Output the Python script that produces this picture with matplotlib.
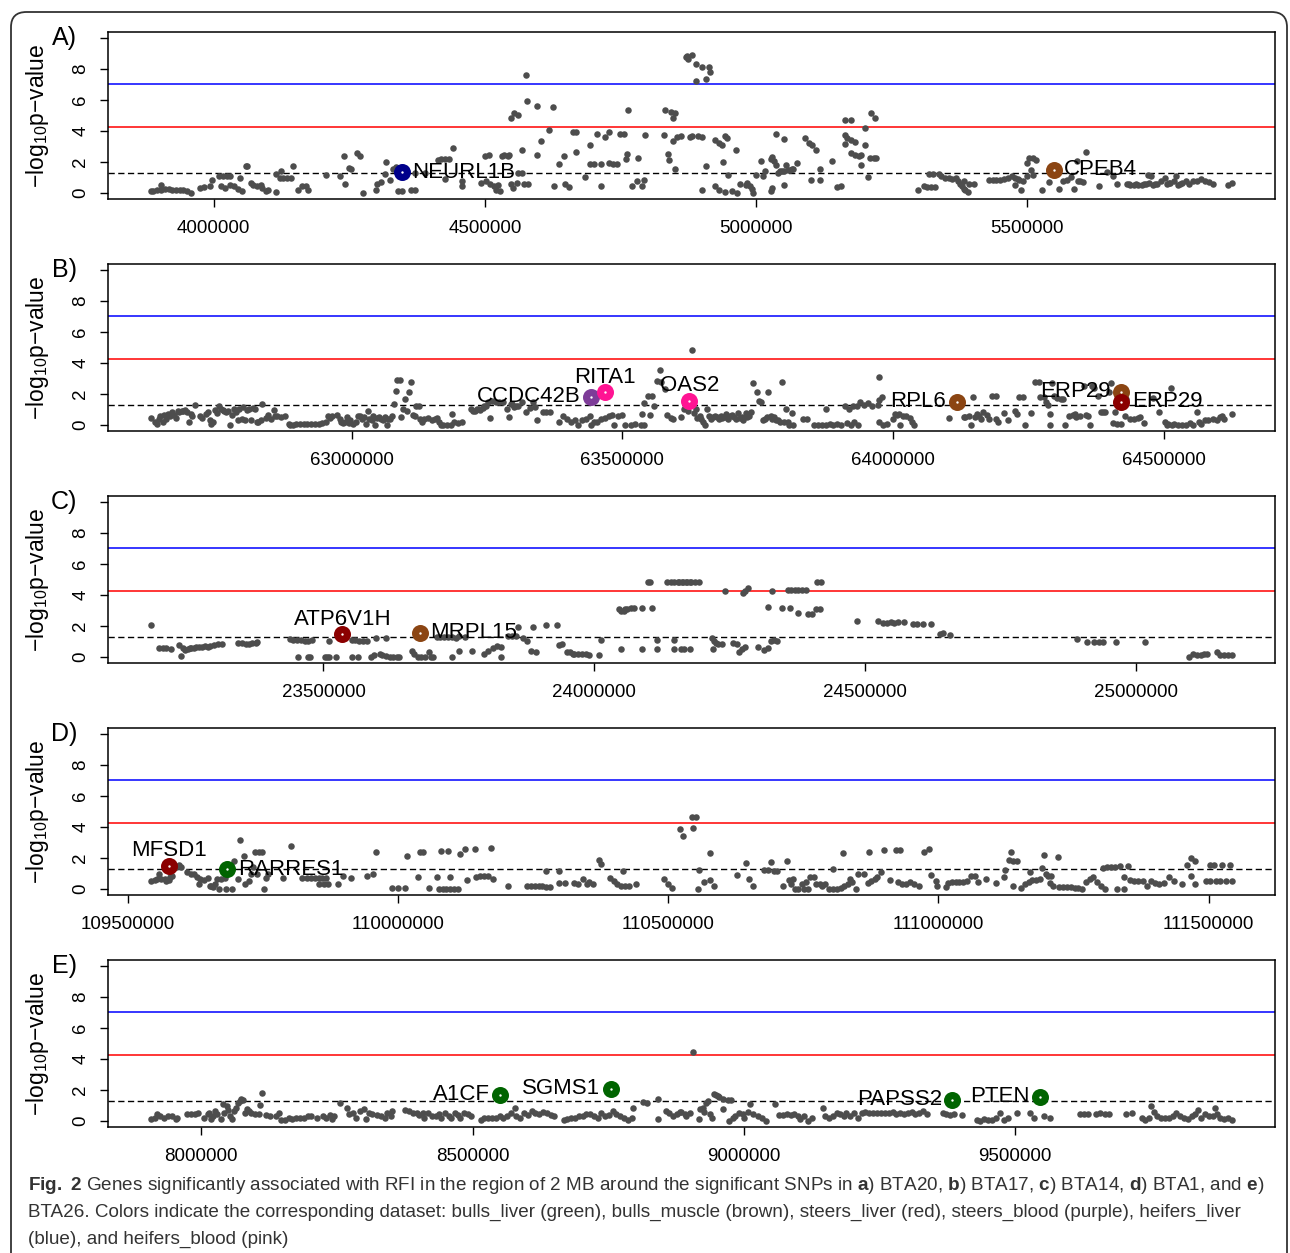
import numpy as np
import matplotlib
matplotlib.use("Agg")
import matplotlib.pyplot as plt
from matplotlib import font_manager
from matplotlib.patches import FancyBboxPatch
from matplotlib.ticker import MultipleLocator, FormatStrFormatter

# ---- data: (position in kb, -log10 p) ----
snps_a = [
    (3885, 0.11), (3889, 0.11), (3896, 0.21), (3903, 0.53), (3903, 0.2), (3910, 0.26), (3917, 0.26),
    (3924, 0.21), (3931, 0.21), (3938, 0.17), (3944, 0.15), (3951, 0.11), (3958, 0.0),
    (3974, 0.34), (3983, 0.38), (3993, 0.43), (3997, 0.81),
    (4010, 1.07), (4017, 1.11), (4024, 1.07), (4031, 1.11), (4014, 0.43), (4021, 0.32), (4031, 0.53),
    (4038, 0.43), (4045, 0.26), (4052, 0.11), (4049, 0.96), (4059, 1.75), (4062, 1.71),
    (4069, 0.64), (4073, 0.53), (4080, 0.43), (4087, 0.53), (4090, 0.32), (4097, 0.11), (4101, 0.21),
    (4115, 0.06), (4115, 1.24), (4122, 0.96), (4125, 1.39), (4128, 0.96), (4135, 0.96), (4142, 0.96),
    (4146, 1.75), (4156, 0.21), (4163, 0.43), (4170, 0.47), (4174, 0.21),
    (4208, 1.13), (4233, 1.07), (4240, 2.35), (4243, 0.6), (4250, 1.6), (4253, 1.54), (4264, 2.56),
    (4269, 2.41), (4276, 0.0), (4299, 0.17), (4302, 0.6), (4309, 0.71), (4316, 1.24), (4318, 1.97),
    (4326, 0.85), (4330, 1.54), (4337, 1.67), (4340, 0.11), (4347, 0.09), (4363, 0.15), (4372, 0.21),
    (4372, 1.28), (4389, 1.28), (4413, 2.14), (4420, 2.18), (4427, 2.18), (4434, 2.18), (4441, 2.88),
    (4427, 0.92), (4458, 0.79), (4458, 0.43), (4493, 0.64), (4500, 2.39), (4503, 0.75), (4507, 2.46),
    (4510, 0.6), (4517, 0.47), (4521, 0.21), (4524, 0.53), (4528, 0.11), (4531, 2.39), (4535, 2.46),
    (4542, 2.39), (4545, 2.46), (4549, 0.6), (4552, 0.32), (4559, 0.64), (4562, 1.28), (4568, 2.78),
    (4569, 1.28), (4573, 0.6), (4580, 0.6),
    (4549, 4.81), (4554, 5.13), (4561, 5.0), (4576, 7.59), (4578, 5.94), (4596, 5.64), (4625, 5.53),
    (4597, 2.46), (4604, 3.38), (4618, 4.06), (4628, 0.43), (4637, 1.86), (4646, 2.39), (4647, 0.6),
    (4656, 0.38), (4663, 3.91), (4668, 3.91), (4668, 2.61), (4684, 1.03), (4693, 3.06), (4694, 1.88),
    (4701, 1.88), (4707, 3.82), (4714, 0.47), (4715, 1.88), (4721, 3.59), (4728, 3.93), (4729, 1.9),
    (4736, 1.88), (4743, 1.84), (4750, 3.8), (4757, 3.8), (4760, 2.2), (4762, 2.52), (4764, 5.38),
    (4771, 0.43), (4781, 0.75), (4783, 2.22), (4790, 0.47), (4794, 0.81), (4795, 3.74), (4830, 3.74),
    (4833, 5.38), (4837, 2.52), (4840, 2.09), (4844, 5.21), (4847, 4.87), (4851, 5.17), (4847, 3.38),
    (4854, 3.59), (4851, 1.54), (4871, 8.76), (4875, 8.65), (4878, 3.63),
    (4872, 8.87), (4882, 8.93), (4889, 8.33), (4889, 7.26), (4900, 8.12), (4907, 7.37), (4914, 8.12),
    (4916, 7.8), (4861, 3.68), (4882, 3.68), (4893, 3.68), (4900, 3.63), (4907, 1.71), (4900, 0.21),
    (4925, 3.42), (4932, 3.21), (4937, 3.1), (4942, 3.68), (4947, 3.57), (4939, 1.97), (4925, 0.47),
    (4932, 0.21), (4942, 0.04), (4949, 1.18), (4956, 0.11), (4963, 2.74), (4965, 0.0), (4970, 0.58),
    (4981, 0.53), (4984, 0.64), (4988, 0.43), (4992, 0.26), (4995, 0.0), (4999, 1.18), (5009, 2.03),
    (5013, 1.07), (5016, 1.39), (5027, 2.18), (5030, 2.31), (5034, 2.03), (5037, 1.82), (5041, 1.28),
    (5044, 1.39), (5048, 1.39), (5051, 1.39), (5055, 1.82), (5059, 1.5), (5062, 1.5), (5066, 1.54),
    (5069, 1.54), (5037, 3.78), (5051, 3.48), (5027, 0.11), (5030, 0.32), (5051, 0.53), (5076, 1.92),
    (5090, 3.57), (5097, 3.21), (5104, 3.06), (5111, 2.74), (5101, 0.85), (5118, 1.54), (5118, 0.85),
    (5140, 2.07), (5150, 0.38), (5157, 0.43), (5164, 4.7), (5175, 4.74), (5164, 3.74), (5168, 3.57),
    (5175, 3.42), (5182, 3.27), (5164, 3.16), (5175, 2.56), (5182, 2.46), (5189, 2.39), (5193, 2.46),
    (5200, 3.06), (5193, 1.82), (5200, 4.19), (5210, 2.24), (5217, 2.24), (5221, 2.24), (5212, 5.19),
    (5219, 4.81), (5207, 1.0),
    (5298, 0.21), (5309, 0.47), (5316, 0.38), (5323, 0.38), (5330, 0.38), (5319, 1.24), (5327, 1.24),
    (5337, 1.24), (5341, 1.07), (5348, 0.96), (5355, 0.96), (5362, 0.9), (5369, 0.96), (5372, 0.75),
    (5376, 0.58), (5383, 0.75), (5386, 0.17), (5390, 0.04), (5393, 0.6), (5401, 0.6), (5379, 0.43),
    (5383, 0.26), (5429, 0.81), (5436, 0.85), (5443, 0.85), (5450, 0.85), (5457, 0.9), (5464, 0.94),
    (5471, 1.07), (5478, 0.96), (5482, 0.9), (5485, 0.85), (5478, 0.53), (5489, 0.21), (5492, 0.75),
    (5499, 1.07), (5499, 1.92), (5503, 2.26), (5510, 2.24), (5517, 2.09), (5506, 1.45), (5511, 1.15),
    (5527, 0.17), (5540, 0.68), (5559, 0.26), (5566, 0.75), (5573, 0.85), (5580, 1.0), (5587, 0.26),
    (5591, 2.07), (5594, 0.75), (5598, 0.79), (5602, 0.68), (5609, 2.61), (5633, 0.47), (5647, 1.32),
    (5658, 1.07), (5665, 0.6),
    (5683, 0.6), (5687, 0.55), (5690, 0.53), (5697, 0.53), (5701, 0.56), (5704, 0.53), (5711, 0.53),
    (5715, 0.57), (5718, 0.6), (5725, 0.64), (5732, 0.53), (5736, 0.58), (5739, 0.6), (5746, 0.75),
    (5753, 0.96), (5757, 0.6), (5761, 0.62), (5764, 0.64), (5771, 0.75), (5775, 1.11), (5778, 0.53),
    (5782, 0.6), (5785, 0.64), (5792, 0.75), (5799, 0.6), (5806, 0.75), (5813, 0.75), (5820, 0.9),
    (5828, 0.75), (5835, 0.68), (5842, 0.6), (5722, 1.18), (5729, 1.07), (5870, 0.53), (5877, 0.64),
]

snps_b = [
    (62630, 0.43), (62637, 0.21), (62640, 0.06), (62644, 0.38), (62647, 0.56), (62651, 0.17),
    (62654, 0.64), (62658, 0.38), (62661, 0.71), (62665, 0.56), (62668, 0.81), (62672, 0.64),
    (62675, 0.43), (62679, 0.92), (62682, 0.81), (62686, 0.88), (62689, 0.92), (62692, 0.98),
    (62696, 0.85), (62699, 0.21), (62703, 0.71), (62706, 0.56), (62710, 1.28), (62720, 0.6),
    (62724, 0.43), (62731, 0.71), (62734, 0.85), (62738, 0.28), (62741, 0.06), (62745, 0.17),
    (62748, 0.98), (62752, 0.77), (62755, 1.24), (62759, 1.03), (62762, 0.98), (62765, 0.92),
    (62769, 0.85), (62772, 0.92), (62776, 0.0), (62779, 0.64), (62783, 1.03), (62786, 0.85),
    (62790, 0.28), (62793, 1.03), (62797, 0.38), (62800, 1.13), (62804, 0.28), (62807, 0.98),
    (62811, 1.03), (62814, 0.28), (62818, 1.07), (62821, 1.03), (62825, 0.21), (62828, 0.21),
    (62832, 0.28), (62835, 1.35), (62842, 0.43), (62845, 0.64), (62852, 0.38), (62856, 0.98),
    (62859, 0.56), (62863, 0.56), (62870, 0.49), (62877, 0.6), (62884, 0.06), (62887, 0.0),
    (62891, 0.0), (62898, 0.04), (62905, 0.04), (62912, 0.04), (62918, 0.06), (62925, 0.04),
    (62932, 0.06), (62939, 0.04), (62946, 0.13), (62953, 0.17), (62957, 0.56), (62960, 0.43),
    (62964, 0.56), (62974, 0.64), (62978, 0.38), (62981, 0.17), (62985, 0.13), (62988, 0.17),
    (62991, 0.49), (62995, 0.13), (62998, 0.28), (63002, 0.04), (63009, 0.21), (63012, 0.6),
    (63016, 0.56), (63019, 0.38), (63023, 0.49), (63026, 0.06), (63030, 0.92), (63033, 0.38),
    (63037, 0.28), (63040, 0.56), (63044, 0.0), (63047, 0.43), (63051, 0.49), (63054, 0.38),
    (63058, 0.28), (63061, 0.49), (63065, 0.0), (63068, 0.38), (63071, 0.38), (63075, 0.56),
    (63078, 1.35), (63082, 2.2), (63084, 2.91), (63089, 2.91), (63092, 0.49), (63096, 1.03),
    (63099, 1.67), (63103, 0.92), (63106, 2.09), (63110, 2.78), (63113, 0.64), (63117, 0.56),
    (63120, 1.2), (63124, 1.24), (63127, 0.38), (63131, 0.21), (63134, 0.38), (63141, 0.43),
    (63148, 0.28), (63155, 0.38), (63158, 0.43), (63162, 0.17), (63165, 0.0), (63169, 0.0),
    (63176, 0.0), (63183, 0.0), (63186, 0.71), (63190, 0.21), (63197, 0.13), (63204, 0.21),
    (63221, 1.03), (63224, 0.92), (63228, 0.92), (63231, 1.03), (63235, 1.03), (63238, 0.98),
    (63242, 1.07), (63245, 1.2), (63249, 1.2), (63252, 1.5), (63256, 0.43), (63259, 1.56),
    (63266, 1.5), (63273, 1.5), (63280, 1.45), (63287, 1.03), (63291, 0.49), (63294, 1.35),
    (63297, 1.35), (63301, 1.13), (63304, 1.2), (63308, 1.2), (63315, 1.45), (63322, 0.85),
    (63329, 1.07), (63336, 1.5), (63339, 1.13), (63343, 0.28), (63353, 0.81), (63360, 0.81),
    (63367, 0.81), (63384, 0.21), (63391, 0.6), (63398, 0.38), (63405, 0.17), (63412, 0.28),
    (63419, 0.0), (63426, 0.28), (63433, 0.38), (63440, 0.6), (63443, 0.0), (63447, 0.17),
    (63454, 0.21), (63461, 0.38), (63468, 0.43), (63475, 0.6), (63482, 0.64), (63485, 0.0),
    (63492, 0.6), (63499, 0.64), (63506, 0.0), (63517, 0.0), (63524, 0.06), (63534, 0.0),
    (63541, 0.0), (63537, 0.71), (63541, 1.41), (63548, 1.84), (63555, 1.84), (63558, 1.2),
    (63551, 0.64), (63569, 3.55), (63565, 2.84), (63572, 2.78), (63579, 2.31), (63583, 0.64),
    (63590, 0.43), (63593, 0.38),
    (63608, 0.49), (63615, 1.03), (63622, 0.92), (63629, 4.87), (63632, 0.77), (63636, 1.03),
    (63639, 0.43), (63643, 0.6), (63646, 0.38), (63650, 0.21), (63653, 0.0), (63657, 1.03),
    (63661, 0.56), (63664, 0.38), (63668, 0.49), (63671, 0.6), (63675, 0.49), (63678, 0.38),
    (63682, 0.56), (63685, 0.43), (63689, 0.49), (63692, 0.71), (63696, 0.38), (63699, 0.56),
    (63703, 0.64), (63706, 0.49), (63710, 0.38), (63714, 0.77), (63717, 0.43), (63721, 0.49),
    (63724, 0.34), (63728, 0.77), (63731, 0.49), (63735, 0.56), (63738, 0.85), (63742, 2.69),
    (63749, 2.14), (63752, 1.56), (63756, 1.45), (63760, 0.34), (63763, 0.38), (63767, 0.49),
    (63770, 2.14), (63774, 0.6), (63777, 0.38), (63781, 0.49), (63784, 0.34), (63788, 0.28),
    (63791, 0.21), (63795, 2.78), (63798, 0.17), (63802, 1.03), (63806, 0.21), (63809, 0.0),
    (63813, 0.77), (63816, 0.0), (63834, 0.38), (63841, 0.38), (63855, 0.0), (63862, 0.0),
    (63869, 0.0), (63876, 1.03), (63876, 0.0), (63883, 0.04), (63890, 0.0), (63897, 0.06),
    (63905, 0.0), (63912, 1.24), (63915, 0.13), (63919, 1.03), (63922, 0.0), (63926, 1.2),
    (63929, 0.17), (63933, 1.24), (63936, 0.0), (63940, 1.5), (63947, 1.28), (63954, 1.41),
    (63961, 1.2), (63972, 1.28), (63974, 3.12), (63975, 1.62), (63979, 1.77), (63975, 0.17),
    (63982, 0.0), (63989, 0.04), (64000, 0.38), (64004, 0.71), (64007, 0.64), (64011, 0.71),
    (64014, 0.0), (64018, 0.6), (64025, 0.56), (64032, 0.43), (64035, 0.21), (64039, 0.0),
    (64103, 0.45), (64131, 0.49), (64134, 0.49), (64141, 0.56), (64145, 0.0), (64148, 1.77),
    (64152, 0.49), (64156, 0.71), (64159, 0.6), (64163, 0.38), (64166, 0.81), (64173, 0.64),
    (64177, 0.38), (64184, 1.84), (64191, 1.84), (64191, 0.38), (64194, 0.21), (64205, 0.77),
    (64212, 0.28), (64226, 0.92), (64230, 0.71), (64233, 1.77), (64240, 1.77), (64244, 0.0),
    (64255, 0.77), (64262, 2.74), (64269, 2.74), (64272, 1.77), (64279, 1.77), (64283, 1.45),
    (64286, 1.28), (64290, 0.71), (64294, 2.69), (64290, 0.0), (64297, 1.88), (64304, 1.71),
    (64311, 1.67), (64315, 1.67), (64318, 0.0), (64325, 0.56), (64332, 0.64), (64336, 0.71),
    (64339, 0.49), (64346, 0.56), (64353, 2.52), (64357, 0.64), (64361, 0.56), (64364, 0.0),
    (64368, 2.48), (64371, 2.35), (64378, 1.84), (64385, 0.85), (64389, 0.85), (64392, 0.81),
    (64400, 2.09), (64403, 2.69), (64407, 0.13), (64410, 0.81), (64414, 0.06), (64421, 0.06),
    (64428, 0.6), (64431, 1.67), (64438, 0.38), (64446, 0.38), (64453, 0.43), (64456, 0.49),
    (64463, 0.13), (64481, 1.71), (64492, 0.81), (64502, 0.17), (64506, 0.0), (64509, 0.06),
    (64513, 2.35), (64516, 0.0), (64520, 0.06), (64527, 0.0), (64534, 0.0), (64541, 0.0),
    (64548, 0.13), (64555, 0.0), (64562, 0.81), (64566, 0.21), (64569, 0.06), (64576, 0.34),
    (64583, 0.28), (64591, 0.38), (64598, 0.28), (64605, 0.49), (64608, 0.56), (64612, 0.38),
    (64626, 0.71),
]

snps_c = [
    (23182, 2.05), (23196, 0.56), (23203, 0.56), (23210, 0.56), (23218, 0.49), (23233, 0.77),
    (23237, 0.06), (23240, 0.6), (23244, 0.43), (23249, 0.49), (23253, 0.56), (23256, 0.56),
    (23261, 0.6), (23265, 0.64), (23270, 0.64), (23275, 0.64), (23281, 0.71), (23286, 0.64),
    (23291, 0.71), (23298, 0.77), (23305, 0.81), (23312, 0.85), (23343, 0.92), (23350, 0.92),
    (23357, 0.85), (23363, 0.85), (23368, 0.92), (23375, 0.92), (23378, 0.96),
    (23439, 1.13), (23444, 1.07), (23451, 1.07), (23458, 1.07), (23465, 1.03), (23472, 1.03),
    (23479, 1.07), (23510, 1.03), (23453, 0.0), (23472, 0.02), (23476, 0.02), (23503, 0.02),
    (23507, 0.02), (23510, 0.02), (23524, 0.02), (23552, 0.02), (23563, 0.02), (23552, 1.07),
    (23559, 1.07), (23566, 1.03), (23573, 1.03), (23580, 1.03), (23597, 1.2), (23616, 1.2),
    (23587, 0.0), (23594, 0.13), (23604, 0.21), (23609, 0.13), (23615, 0.06), (23622, 0.0),
    (23629, 0.0), (23636, 0.0), (23639, 0.0),
    (23664, 0.38), (23667, 0.17), (23674, 0.0), (23681, 0.0), (23688, 0.0), (23695, 0.34),
    (23698, 0.0), (23702, 0.0), (23709, 1.28), (23716, 1.28), (23723, 1.28), (23730, 1.28),
    (23737, 1.28), (23744, 1.24), (23751, 1.35), (23761, 1.28), (23737, 0.0), (23751, 0.38),
    (23775, 0.38), (23796, 0.21), (23803, 0.38), (23813, 0.6), (23820, 0.71), (23827, 0.64),
    (23827, 0.0), (23841, 1.35), (23848, 1.35), (23855, 1.35), (23859, 1.92), (23869, 1.2),
    (23876, 1.03), (23883, 0.38), (23886, 1.92), (23893, 0.28), (23911, 2.05), (23932, 2.05),
    (23934, 0.77), (23941, 0.85), (23949, 0.34), (23956, 0.28), (23960, 0.17), (23963, 0.21),
    (23970, 0.17), (23977, 0.17), (23984, 0.17), (23991, 0.13), (24008, 0.13), (24012, 1.07),
    (24050, 0.49), (24045, 3.06), (24050, 2.95), (24054, 2.95), (24057, 3.06), (24061, 3.1),
    (24068, 3.16), (24073, 3.16), (24088, 3.16), (24106, 3.16), (24088, 0.49), (24115, 0.49),
    (24115, 1.07), (24148, 1.07), (24148, 0.49), (24165, 0.49), (24176, 0.49),
    (24099, 4.83), (24102, 4.83), (24134, 4.83), (24141, 4.83), (24148, 4.83), (24155, 4.83),
    (24162, 4.83), (24169, 4.83), (24176, 4.83),
    (24157, 4.83), (24164, 4.83), (24171, 4.83), (24178, 4.83), (24186, 4.83), (24193, 4.81),
    (24161, 0.49), (24217, 1.2), (24221, 1.03), (24224, 0.92), (24228, 0.85), (24235, 0.85),
    (24220, 0.49), (24242, 4.27), (24256, 0.92), (24263, 0.81), (24267, 0.34), (24272, 0.49),
    (24278, 0.64), (24274, 4.12), (24279, 4.23), (24283, 4.44), (24302, 0.64), (24313, 0.43),
    (24320, 0.6), (24326, 1.03), (24331, 1.07), (24338, 1.03), (24320, 3.21), (24329, 4.23),
    (24347, 3.16), (24361, 3.16), (24357, 4.34), (24363, 4.34), (24370, 4.34), (24377, 4.34),
    (24384, 4.34), (24391, 4.34), (24377, 2.84), (24394, 2.74), (24402, 2.74), (24409, 3.12),
    (24416, 3.12), (24412, 4.83), (24419, 4.83),
    (24485, 2.31), (24524, 2.31), (24533, 2.2), (24540, 2.2), (24547, 2.24), (24554, 2.2),
    (24561, 2.24), (24572, 2.26), (24589, 2.14), (24596, 2.14), (24607, 2.14), (24621, 2.14),
    (24639, 1.5), (24644, 1.56), (24656, 1.39),
    (24892, 1.18), (24909, 0.98), (24923, 0.98), (24931, 0.98), (24940, 0.98), (24963, 0.98),
    (25016, 0.98), (25098, 0.0), (25106, 0.17), (25113, 0.13), (25120, 0.11), (25126, 0.21),
    (25131, 0.21), (25149, 0.28), (25156, 0.13), (25163, 0.11), (25170, 0.11), (25177, 0.11),
]

snps_d = [
    (109543, 0.53), (109550, 0.58), (109554, 0.64), (109561, 0.64), (109568, 0.64), (109571, 0.49),
    (109575, 0.58), (109578, 0.75), (109581, 0.85), (109557, 0.96), (109588, 1.39), (109595, 1.56),
    (109599, 1.39), (109609, 1.07), (109616, 0.96), (109623, 0.96), (109627, 0.79), (109632, 0.32),
    (109634, 0.64), (109641, 0.58), (109648, 0.71), (109651, 0.21), (109654, 0.15), (109658, 0.11),
    (109661, 0.32), (109665, 0.64), (109668, 0.0), (109672, 0.64), (109679, 0.71), (109682, 0.0),
    (109693, 0.0), (109696, 1.82), (109703, 0.64), (109707, 3.14), (109714, 2.14), (109717, 0.32),
    (109724, 0.49), (109728, 0.96), (109731, 1.39), (109735, 2.35), (109738, 0.96), (109742, 2.35),
    (109748, 2.35), (109752, 0.0), (109755, 0.71), (109759, 0.96), (109787, 0.71), (109801, 2.74),
    (109822, 0.71), (109832, 0.71), (109839, 0.71), (109846, 0.71), (109853, 0.71), (109860, 0.71),
    (109867, 0.71), (109853, 0.32), (109863, 0.32), (109870, 0.32), (109888, 0.32), (109898, 0.85),
    (109912, 0.71), (109943, 0.85), (109954, 0.96), (109959, 2.41), (109989, 0.06), (110000, 0.06),
    (110013, 0.06), (110016, 2.14), (110037, 0.79), (110041, 2.41), (110046, 2.41), (110058, 0.06),
    (110072, 0.75), (110076, 0.0), (110083, 0.0), (110089, 0.0), (110096, 0.0), (110103, 0.0),
    (110110, 0.0), (110079, 2.46), (110093, 2.46), (110096, 0.75), (110114, 2.24), (110123, 2.56),
    (110128, 0.58), (110142, 2.56), (110145, 0.75), (110152, 0.85), (110159, 0.85), (110166, 0.85),
    (110171, 2.67), (110176, 0.64), (110204, 0.15), (110239, 0.21), (110246, 0.21), (110253, 0.21),
    (110260, 0.15), (110267, 0.15), (110274, 0.11), (110281, 0.11), (110274, 1.13), (110298, 0.36),
    (110298, 1.13), (110309, 0.36), (110325, 0.36), (110333, 0.32), (110343, 0.64), (110350, 0.28),
    (110354, 0.43), (110361, 0.32), (110371, 1.86), (110375, 1.6), (110392, 0.71), (110399, 0.49),
    (110406, 0.32), (110413, 0.21), (110417, 1.13), (110420, 0.21), (110427, 0.15), (110441, 0.28),
    (110493, 0.64), (110500, 0.32), (110507, 0.06),
    (110521, 3.85), (110528, 3.42), (110543, 4.64), (110551, 4.64), (110546, 3.95), (110555, 0.0),
    (110557, 1.22), (110567, 0.43), (110578, 2.29), (110578, 0.58), (110585, 0.15), (110628, 0.92),
    (110643, 1.65), (110649, 0.64), (110656, 0.21), (110677, 1.22), (110684, 1.22), (110690, 1.71),
    (110695, 1.18), (110702, 1.18), (110713, 0.21), (110720, 1.77), (110723, 0.58), (110727, 0.32),
    (110730, 0.64), (110734, 0.0), (110741, 0.0), (110748, 0.32), (110752, 0.0), (110755, 0.43),
    (110759, 0.0), (110762, 0.75), (110770, 0.79), (110773, 0.32), (110780, 0.32), (110784, 0.15),
    (110791, 0.32), (110798, 0.0), (110805, 0.0), (110812, 0.0), (110819, 0.06), (110826, 0.15),
    (110833, 0.32), (110837, 0.64), (110840, 0.43), (110848, 0.0), (110804, 1.28), (110823, 2.29),
    (110851, 0.96), (110862, 0.96), (110869, 0.36), (110871, 2.41), (110876, 0.49), (110883, 0.64),
    (110887, 0.79), (110894, 1.07), (110899, 2.5), (110911, 0.58), (110922, 2.5), (110929, 2.5),
    (110926, 0.43), (110933, 0.32), (110940, 0.32), (110947, 0.43), (110954, 0.28), (110965, 0.21),
    (110973, 2.41), (110982, 2.56), (110986, 0.92), (110995, 0.49), (110997, 0.21), (111014, 0.11),
    (111018, 0.36), (111025, 0.43), (111032, 0.43), (111039, 0.43), (111046, 0.43), (111053, 0.49),
    (111060, 0.85), (111067, 0.85), (111074, 0.43), (111089, 0.64), (111106, 0.36), (111121, 0.79),
    (111124, 1.22), (111135, 2.35), (111131, 1.86), (111138, 1.82), (111145, 1.82), (111138, 0.21),
    (111152, 0.06), (111160, 0.32), (111167, 0.43), (111174, 0.58), (111181, 0.58), (111188, 0.64),
    (111170, 1.07), (111192, 1.35), (111195, 2.2), (111199, 0.96), (111202, 0.85), (111209, 0.85),
    (111206, 0.36), (111213, 0.21), (111221, 2.03), (111223, 0.11), (111231, 0.11), (111238, 0.11),
    (111245, 0.11), (111252, 0.06), (111259, 0.06), (111266, 0.0), (111273, 0.43), (111280, 0.64),
    (111287, 0.75), (111294, 0.43), (111301, 0.21), (111305, 1.35), (111308, 0.0), (111312, 1.39),
    (111319, 1.39), (111326, 1.39), (111330, 0.0), (111337, 1.5), (111344, 0.0), (111344, 0.75),
    (111351, 1.5), (111355, 0.58), (111362, 0.53), (111369, 0.53), (111379, 0.49), (111387, 0.21),
    (111394, 0.49), (111401, 0.36), (111408, 0.32), (111418, 0.36), (111426, 0.75), (111436, 0.49),
    (111450, 0.28), (111461, 1.56), (111468, 1.99), (111475, 1.77), (111468, 0.85), (111475, 0.28),
    (111496, 0.49), (111503, 1.56), (111503, 0.49), (111511, 1.56), (111514, 0.49), (111521, 0.49),
    (111525, 1.56), (111532, 0.49), (111539, 1.56), (111543, 0.49),
]

snps_e = [
    (7908, 0.11), (7915, 0.21), (7918, 0.43), (7925, 0.32), (7932, 0.15), (7939, 0.32), (7946, 0.28),
    (7953, 0.11), (7956, 0.15), (7974, 0.43), (7981, 0.43), (7988, 0.43), (7994, 0.49), (8005, 0.21),
    (8012, 0.43), (8015, 0.53), (8019, 0.11), (8022, 0.32), (8026, 0.64), (8029, 0.43), (8036, 0.11),
    (8040, 1.07), (8043, 0.53), (8047, 0.96), (8050, 0.71), (8053, 0.32), (8057, 0.11), (8060, 0.64),
    (8064, 0.85), (8067, 1.13), (8071, 1.28), (8074, 1.39), (8078, 1.35), (8081, 0.49), (8085, 0.79),
    (8088, 0.64), (8092, 0.49), (8099, 0.43), (8106, 0.43), (8109, 1.0), (8112, 1.77), (8119, 0.36),
    (8126, 0.32), (8137, 0.32), (8144, 0.53), (8147, 0.06), (8154, 0.06), (8161, 0.15), (8168, 0.11),
    (8175, 0.15), (8182, 0.21), (8189, 0.15), (8196, 0.28), (8203, 0.32), (8213, 0.21), (8224, 0.32),
    (8230, 0.15), (8237, 0.36), (8241, 0.11), (8244, 0.32), (8255, 1.18), (8269, 0.85), (8272, 0.43),
    (8279, 0.49), (8286, 0.21), (8293, 0.64), (8300, 0.75), (8303, 0.11), (8310, 0.53), (8314, 0.43),
    (8324, 0.36), (8331, 0.32), (8338, 0.15), (8342, 0.49), (8349, 0.32), (8352, 0.64), (8376, 0.71),
    (8383, 0.64), (8390, 0.53), (8397, 0.49), (8401, 0.36), (8408, 0.49), (8411, 0.15), (8418, 0.49),
    (8425, 0.32), (8432, 0.28), (8439, 0.43), (8442, 0.15), (8449, 0.53), (8456, 0.32), (8460, 0.15),
    (8467, 0.49), (8474, 0.36), (8477, 0.21), (8484, 0.53), (8491, 0.43), (8498, 0.32), (8515, 0.06),
    (8522, 0.15), (8529, 0.21), (8536, 0.21), (8543, 0.15), (8550, 0.32), (8557, 0.21), (8564, 0.32),
    (8571, 0.49), (8578, 0.85), (8581, 0.32), (8588, 0.21), (8595, 0.49), (8602, 0.36), (8609, 0.64),
    (8616, 0.49), (8623, 0.43), (8630, 0.58), (8637, 0.49), (8644, 0.36), (8651, 0.32), (8668, 0.06),
    (8675, 0.11), (8682, 0.15), (8689, 0.21), (8696, 0.28), (8703, 0.32), (8710, 0.43), (8717, 0.43),
    (8724, 0.28), (8731, 0.21), (8737, 0.49), (8744, 0.32), (8751, 0.36), (8758, 0.64), (8765, 0.43),
    (8772, 0.32), (8779, 0.15), (8786, 0.06), (8793, 0.15), (8796, 0.85), (8814, 1.22), (8821, 1.18),
    (8842, 1.39), (8842, 0.11), (8856, 0.64), (8862, 0.49), (8869, 0.32), (8876, 0.43), (8883, 0.58),
    (8894, 0.32), (8901, 0.49),
    (8885, 0.58), (8892, 0.43), (8906, 4.42), (8917, 0.11), (8920, 0.79), (8924, 0.85), (8927, 0.58),
    (8931, 1.13), (8934, 1.28), (8938, 0.43), (8941, 0.15), (8945, 1.71), (8948, 1.65), (8952, 1.6),
    (8955, 1.56), (8962, 1.39), (8961, 0.79), (8970, 1.35), (8977, 1.35), (8973, 0.0), (8980, 0.15),
    (8984, 0.32), (8991, 0.49), (8998, 0.43), (9001, 0.15), (9008, 0.58), (9016, 0.43), (9012, 1.07),
    (9026, 0.32), (9033, 0.15), (9040, 0.0), (9058, 1.07), (9065, 0.36), (9072, 0.36), (9079, 0.43),
    (9086, 0.36), (9093, 0.43), (9100, 0.32), (9104, 0.11), (9111, 0.28), (9118, 0.0), (9125, 0.15),
    (9146, 0.85), (9150, 0.32), (9157, 0.15), (9164, 0.32), (9171, 0.49), (9178, 0.43), (9185, 0.32),
    (9189, 0.49), (9196, 0.32), (9203, 0.53), (9210, 0.15), (9217, 0.49), (9224, 0.58), (9231, 0.53),
    (9238, 0.49), (9245, 0.49), (9252, 0.49), (9260, 0.53), (9267, 0.49), (9274, 0.58), (9281, 0.43),
    (9288, 0.49), (9295, 0.43), (9302, 0.49), (9309, 0.58), (9316, 0.43), (9323, 0.53), (9330, 0.64),
    (9337, 0.43), (9366, 0.49), (9373, 0.43), (9380, 0.36), (9387, 0.43), (9401, 0.36), (9429, 0.06),
    (9436, 0.0), (9443, 0.11), (9450, 0.06), (9458, 0.06), (9465, 0.15), (9472, 0.53), (9479, 0.06),
    (9486, 0.15), (9503, 0.49), (9528, 0.49), (9535, 0.15), (9553, 0.32), (9564, 0.15), (9620, 0.43),
    (9627, 0.43), (9634, 0.43), (9648, 0.43), (9656, 0.49), (9666, 0.43), (9673, 0.43), (9705, 0.43),
    (9716, 0.49), (9733, 0.15), (9740, 0.06), (9747, 0.21), (9751, 0.96), (9755, 0.58), (9762, 0.32),
    (9769, 0.15), (9776, 0.15), (9783, 0.21), (9790, 0.32), (9797, 0.49), (9804, 0.32), (9811, 0.15),
    (9818, 0.11), (9825, 0.32), (9832, 0.43), (9836, 0.71), (9843, 0.15), (9850, 0.43), (9857, 0.32),
    (9864, 0.32), (9868, 0.85), (9871, 0.43), (9878, 0.15), (9885, 0.11), (9892, 0.15), (9899, 0.06),
]

# genes: (name, position kb, -log10 p, dataset)
genes_a = [("NEURL1B", 4347, 1.32, "heifers_liver"), ("CPEB4", 5549, 1.50, "bulls_muscle")]
genes_b = [("CCDC42B", 63443, 1.82, "steers_blood"), ("RITA1", 63469, 2.09, "heifers_blood"),
           ("OAS2", 63624, 1.56, "heifers_blood"), ("RPL6", 64118, 1.50, "bulls_muscle"),
           ("ERP29", 64422, 2.14, "bulls_muscle"), ("ERP29", 64422, 1.50, "steers_liver")]
genes_c = [("ATP6V1H", 23535, 1.45, "steers_liver"), ("MRPL15", 23678, 1.56, "bulls_muscle")]
genes_d = [("MFSD1", 109575, 1.50, "steers_liver"), ("RARRES1", 109684, 1.28, "bulls_liver")]
genes_e = [("A1CF", 8551, 1.67, "bulls_liver"), ("SGMS1", 8755, 2.07, "bulls_liver"),
           ("PAPSS2", 9384, 1.35, "bulls_liver"), ("PTEN", 9546, 1.56, "bulls_liver")]

panel_letters = ["A)", "B)", "C)", "D)", "E)"]
thresholds = [7.05, 4.27, 1.30]   # blue, red, dashed

dataset_colors = {"bulls_liver": "#006400", "bulls_muscle": "#8B4513", "steers_liver": "#8B0000",
                  "steers_blood": "#7D3C98", "heifers_liver": "#00008B", "heifers_blood": "#FF1493"}

label_sides = [["right", "right"],
               ["left", "top", "top", "left", "left", "right"],
               ["top", "right"],
               ["top", "right"],
               ["left", "left", "left", "left"]]

# ---- fonts ----
names = {f.name for f in font_manager.fontManager.ttflist}
cap_font = "Liberation Sans Narrow" if "Liberation Sans Narrow" in names else "Liberation Sans"
plt.rcParams["font.family"] = ["Liberation Sans", "DejaVu Sans"]
plt.rcParams["mathtext.fontset"] = "custom"
plt.rcParams["mathtext.rm"] = "Liberation Sans"
plt.rcParams["mathtext.bf"] = cap_font + ":bold"

W, H = 1290, 1253
fig = plt.figure(figsize=(W / 100, H / 100), dpi=100)

offsets = {"right": ((7.5, 0), "left", "center"),
           "left": ((-7.5, 0), "right", "center"),
           "top": ((0, 7), "center", "baseline")}


def manhattan(ax, snps, genes, sides, letter):
    pos = np.array([s[0] for s in snps]) * 1000.0
    lp = np.array([s[1] for s in snps])
    ax.scatter(pos, lp, s=22, c="#4d4d4d", linewidths=0, zorder=2)

    ax.axhline(thresholds[0], color="#0000ff", lw=1.1, zorder=1)
    ax.axhline(thresholds[1], color="#ff0000", lw=1.1, zorder=1)
    ax.axhline(thresholds[2], color="black", lw=1.0, ls=(0, (4.5, 2.5)), zorder=1)

    for (name, gpos, glp, ds), side in zip(genes, sides):
        ax.scatter([gpos * 1000.0], [glp], s=150, c=dataset_colors[ds], linewidths=0, zorder=4)
        ax.scatter([gpos * 1000.0], [glp], s=3, c="white", linewidths=0, zorder=5)
        off, ha, va = offsets[side]
        ax.annotate(name, (gpos * 1000.0, glp), xytext=off, textcoords="offset points",
                    ha=ha, va=va, fontsize=16, zorder=6)

    lo, hi = pos.min(), pos.max()
    pad = 0.04 * (hi - lo)
    ax.set_xlim(lo - pad, hi + pad)
    ax.set_ylim(-0.4, 10.4)
    ax.xaxis.set_major_locator(MultipleLocator(500000))
    ax.xaxis.set_major_formatter(FormatStrFormatter("%d"))
    ax.set_yticks([0, 2, 4, 6, 8, 10])
    ax.set_yticklabels(["0", "2", "4", "6", "8", ""])
    for lab in ax.get_yticklabels():
        lab.set_rotation(90)
        lab.set_va("center")
    ax.tick_params(axis="x", direction="out", length=5.5, width=1, labelsize=13.5, pad=9.5)
    ax.tick_params(axis="y", direction="out", length=5.5, width=1, labelsize=13.5, pad=8)
    for sp in ax.spines.values():
        sp.set_linewidth(1.1)

    ax.text(-0.0604, 0.5, "\u2212log$_{\\mathregular{10}}$p\u2212value", transform=ax.transAxes,
            rotation=90, ha="center", va="center", fontsize=16.5)
    ax.text(-0.0377, 0.964, letter, transform=ax.transAxes, ha="center", va="center", fontsize=18)


all_snps = [snps_a, snps_b, snps_c, snps_d, snps_e]
all_genes = [genes_a, genes_b, genes_c, genes_d, genes_e]

for i in range(5):
    top = 32 + 232 * i
    ax = fig.add_axes([108 / W, 1 - (top + 167) / H, 1167 / W, 167 / H])
    manhattan(ax, all_snps[i], all_genes[i], label_sides[i], panel_letters[i])

# outer rounded frame
frame = FancyBboxPatch((11 / W, -0.05), 1276 / W, 1 - 12 / H + 0.05,
                       boxstyle="round,pad=0,rounding_size=0.012",
                       transform=fig.transFigure, fill=False, lw=1.3, ec="#333333")
fig.patches.append(frame)

cap_lines = [
    r"$\mathbf{Fig.}$ $\mathbf{2}$ Genes significantly associated with RFI in the region of 2 MB around the "
    r"significant SNPs in $\mathbf{a}$) BTA20, $\mathbf{b}$) BTA17, $\mathbf{c}$) BTA14, "
    r"$\mathbf{d}$) BTA1, and $\mathbf{e}$)",
    "BTA26. Colors indicate the corresponding dataset: bulls_liver (green), bulls_muscle (brown), "
    "steers_liver (red), steers_blood (purple), heifers_liver",
    "(blue), and heifers_blood (pink)",
]
cap_texts = []
for j, line in enumerate(cap_lines):
    cap_texts.append(fig.text(28 / W, 1 - (1185 + 27 * j) / H, line, family=cap_font, fontsize=12,
                              color="#333333", ha="left", va="center"))

# fit the caption so its first line spans the same width as in the figure
renderer = fig.canvas.get_renderer()
w0 = cap_texts[0].get_window_extent(renderer).width
size = 12 * 1234.0 / w0
for t in cap_texts:
    t.set_fontsize(size)

fig.savefig("out.png", dpi=100)
